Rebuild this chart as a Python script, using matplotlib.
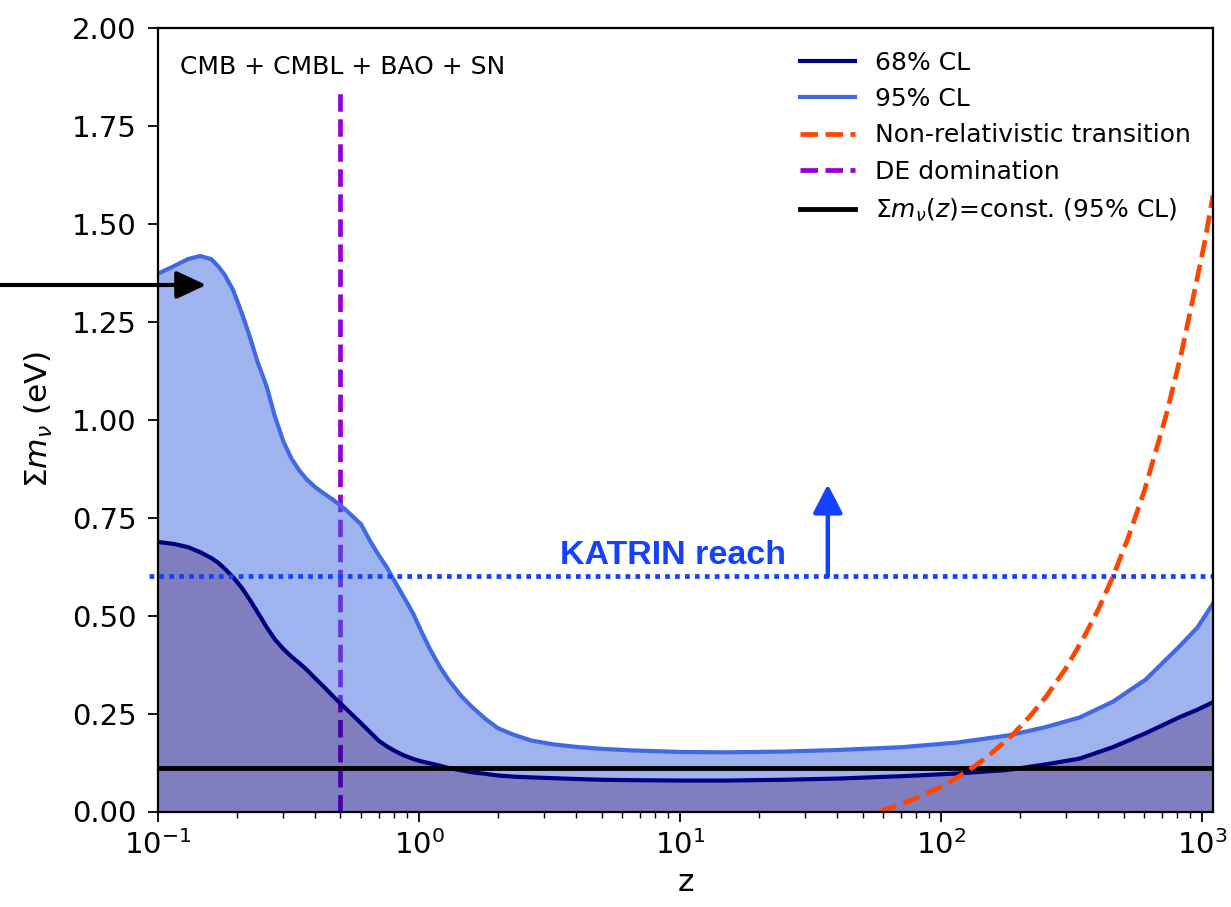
import matplotlib
matplotlib.use("Agg")
import matplotlib.pyplot as plt

# redshift grid shared by both confidence bands
z = [0.1, 0.115, 0.13, 0.145, 0.16, 0.17, 0.18, 0.194, 0.21, 0.225, 0.24,
     0.261, 0.28, 0.302, 0.325, 0.35, 0.371, 0.4, 0.44, 0.47, 0.52, 0.6,
     0.65, 0.7, 0.75, 0.8, 0.87, 0.95, 1.02, 1.1, 1.2, 1.3, 1.45, 1.6, 1.8,
     2.0, 2.3, 2.7, 3.3, 4.0, 5.0, 6.5, 10.0, 15.0, 25.0, 40.0, 70.0, 115.0,
     180.0, 250.0, 339.0, 454.0, 608.0, 814.0, 960.0, 1100.0]

# upper limits on the summed neutrino mass (eV)
mnu_95 = [1.373, 1.392, 1.410, 1.418, 1.410, 1.392, 1.370, 1.331, 1.270,
          1.211, 1.150, 1.084, 1.010, 0.945, 0.900, 0.868, 0.848, 0.828,
          0.808, 0.795, 0.772, 0.733, 0.690, 0.655, 0.625, 0.592, 0.550,
          0.505, 0.460, 0.415, 0.370, 0.335, 0.295, 0.266, 0.236, 0.213,
          0.196, 0.181, 0.171, 0.165, 0.160, 0.156, 0.152, 0.151, 0.153,
          0.157, 0.164, 0.176, 0.194, 0.215, 0.240, 0.280, 0.337, 0.420,
          0.470, 0.531]
mnu_68 = [0.688, 0.683, 0.675, 0.662, 0.647, 0.635, 0.620, 0.598, 0.570,
          0.540, 0.510, 0.470, 0.440, 0.415, 0.395, 0.377, 0.362, 0.340,
          0.313, 0.293, 0.265, 0.225, 0.202, 0.181, 0.167, 0.156, 0.144,
          0.134, 0.128, 0.123, 0.117, 0.111, 0.105, 0.100, 0.096, 0.092,
          0.089, 0.087, 0.085, 0.083, 0.081, 0.080, 0.079, 0.079, 0.081,
          0.084, 0.090, 0.097, 0.106, 0.120, 0.135, 0.164, 0.200, 0.240,
          0.260, 0.279]

# non-relativistic transition redshift as a function of the mass
z_nr = [58, 70, 83, 100, 125, 150, 188, 220, 252, 300, 350, 400, 454, 520,
        600, 728, 830, 946, 1020, 1100]
mnu_nr = [0.0, 0.018, 0.038, 0.063, 0.101, 0.139, 0.196, 0.245, 0.293, 0.365,
          0.441, 0.516, 0.598, 0.698, 0.818, 1.012, 1.166, 1.345, 1.45, 1.573]

z_de = 0.5             # onset of dark-energy domination
mnu_const = 0.11       # constant-mass 95% CL bound
katrin = 0.6           # KATRIN sensitivity
const_arrow_y = 1.344  # level of the z-independent result

yticks = [0.0, 0.25, 0.5, 0.75, 1.0, 1.25, 1.5, 1.75, 2.0]

KATRIN_BLUE = "#1440ff"

fig = plt.figure(figsize=(12.31, 9.07), dpi=100)
ax = fig.add_axes([158 / 1231, 95.5 / 907, 1055 / 1231, 783.5 / 907])

lde, = ax.plot([z_de, z_de], [0, 1.85], color="darkviolet", ls="--", lw=3.4,
               zorder=1, label="DE domination")

ax.fill_between(z, 0, mnu_68, color="navy", alpha=0.5, lw=0, zorder=2)
ax.fill_between(z, mnu_68, mnu_95, color="royalblue", alpha=0.5, lw=0, zorder=2)
l68, = ax.plot(z, mnu_68, color="navy", lw=3, zorder=3, label="68% CL")
l95, = ax.plot(z, mnu_95, color="royalblue", lw=3, zorder=3, label="95% CL")

lnr, = ax.plot(z_nr, mnu_nr, color="orangered", ls="--", lw=3.4, zorder=5,
               label="Non-relativistic transition")
lc = ax.axhline(mnu_const, color="black", lw=3.5, zorder=4,
                label=r"$\Sigma m_\nu(z)$=const. (95% CL)")

# KATRIN reach
ax.plot([0.092, 1100], [katrin, katrin], color=KATRIN_BLUE, lw=3.4,
        ls=(0, (1, 1.1)), zorder=4, clip_on=False)
ax.text(9.4, katrin + 0.015, "KATRIN reach", color=KATRIN_BLUE, fontsize=24.5,
        fontweight="bold", family="Liberation Sans", ha="center", va="bottom")
ax.annotate("", xy=(36.8, 0.835), xytext=(36.8, katrin),
            arrowprops=dict(arrowstyle="-|>,head_length=0.87,head_width=0.45",
                            color=KATRIN_BLUE, lw=3.2, mutation_scale=20,
                            shrinkA=0, shrinkB=0), zorder=6)

# arrow pointing at the constant-mass result
ax.annotate("", xy=(0.153, const_arrow_y), xytext=(0.02, const_arrow_y),
            arrowprops=dict(arrowstyle="-|>,head_length=0.9,head_width=0.42",
                            color="black", lw=3, mutation_scale=20,
                            shrinkA=0, shrinkB=0),
            annotation_clip=False, zorder=6)

ax.text(0.021, 0.965, "CMB + CMBL + BAO + SN", transform=ax.transAxes,
        fontsize=18, ha="left", va="top")

ax.set_xscale("log")
ax.set_xlim(0.1, 1100)
ax.set_ylim(0, 2)
ax.set_yticks(yticks)
ax.set_yticklabels([f"{v:.2f}" for v in yticks])
ax.set_xlabel("z", fontsize=22.5, labelpad=6)
ax.set_ylabel(r"$\Sigma m_\nu$ (eV)", fontsize=22.5, labelpad=12)
ax.tick_params(which="major", labelsize=21, length=7.5, width=1.3)
ax.tick_params(axis="y", which="major", pad=8)
ax.tick_params(axis="x", which="major", pad=6)
ax.tick_params(which="minor", length=4, width=1.0)
for sp in ax.spines.values():
    sp.set_linewidth(1.6)
    sp.set_zorder(7)

ax.legend(handles=[l68, l95, lnr, lde, lc], loc="upper right",
          fontsize=18, frameon=False, handlelength=2.2)

fig.savefig("out.png", dpi=100)
